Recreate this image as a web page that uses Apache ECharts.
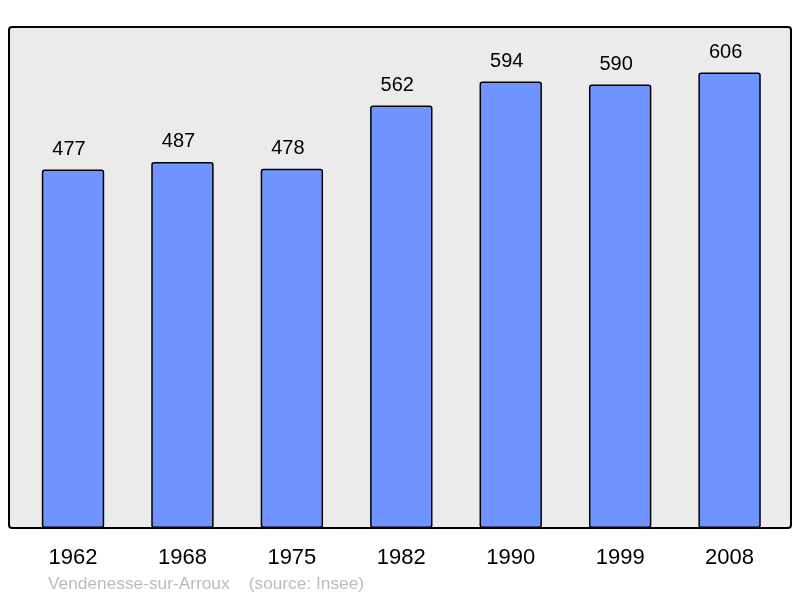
<!DOCTYPE html>
<html><head><meta charset="utf-8">
<script src="https://cdn.jsdelivr.net/npm/echarts@6/dist/echarts.min.js"></script>
<style>html,body{margin:0;padding:0;background:#fff}#c{width:800px;height:598px}</style>
</head><body><div id="c"></div>
<script>
const categories = ['1962','1968','1975','1982','1990','1999','2008'];
const population = [477, 487, 478, 562, 594, 590, 606];
const footer = 'Vendenesse-sur-Arroux    (source: Insee)';

const chart = echarts.init(document.getElementById('c'), null, {renderer:'canvas'});
chart.setOption({
  animation:false,
  backgroundColor:'#ffffff',
  graphic:[
    {type:'rect', z:-10, shape:{x:9,y:27,width:782,height:501,r:3}, style:{fill:'#ebebeb', stroke:'#000', lineWidth:2}},
    {type:'text', left:48, top:576, style:{text:footer, fill:'#bbbbbb', font:'17.3px "Liberation Sans", Arial, sans-serif'}}
  ],
  grid:{left:18.3, width:766, top:27, bottom:70},
  xAxis:{type:'category', data:categories, axisLine:{show:false}, axisTick:{show:false},
    axisLabel:{color:'#000', fontSize:22, fontFamily:'Liberation Sans', margin:19}},
  yAxis:{type:'value', min:0, max:666.6, show:false, splitLine:{show:false}},
  series:[{type:'bar', data:population, barWidth:'57%',
    itemStyle:{color:'#7094ff', borderColor:'#000', borderWidth:1.5, borderRadius:2},
    label:{show:true, position:'top', distance:10, offset:[-4,0], color:'#000', fontSize:20, fontFamily:'Liberation Sans'}}]
});
</script></body></html>
